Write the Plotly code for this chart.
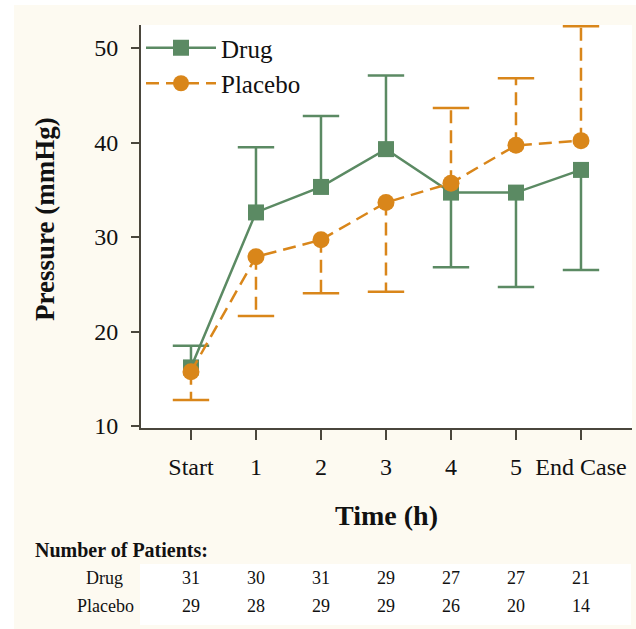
import plotly.graph_objects as go

# ---- data ----
time_labels = ["Start", "1", "2", "3", "4", "5", "End Case"]
drug_mean = [16.2, 32.6, 35.3, 39.3, 34.7, 34.7, 37.1]
drug_err_up = [2.3, 6.9, 7.5, 7.8, 0, 0, 0]
drug_err_down = [0, 0, 0, 0, 7.9, 10.0, 10.6]
placebo_mean = [15.75, 27.9, 29.7, 33.65, 35.7, 39.7, 40.2]
placebo_err_up = [0, 0, 0, 0, 7.95, 7.1, 12.1]
placebo_err_down = [3.0, 6.25, 5.65, 9.45, 0, 0, 0]
n_drug = [31, 30, 31, 29, 27, 27, 21]
n_placebo = [29, 28, 29, 29, 26, 20, 14]
y_ticks = [10, 20, 30, 40, 50]

GREEN = "#5b8a63"
ORANGE = "#d9861a"
AXIS = "#4a463c"
CREAM = "#fdfaf1"
FONT = "Liberation Serif"

W, H = 636, 629
L, R, T, B = 141, 4, 25, 201
PW, PH = W - L - R, H - T - B


def px_x(px):
    return (px - L) / PW


def px_y(py):
    return (H - B - py) / PH


def stems(xs, ys, up, down):
    sx, sy, cx, cy = [], [], [], []
    for x, y, u, d in zip(xs, ys, up, down):
        if u > 0:
            sx += [x, x, None]
            sy += [y, y + u, None]
            cx.append(x)
            cy.append(y + u)
        if d > 0:
            sx += [x, x, None]
            sy += [y, y - d, None]
            cx.append(x)
            cy.append(y - d)
    return sx, sy, cx, cy


fig = go.Figure()

for mean, up, down, color, dash, name, sym in [
    (drug_mean, drug_err_up, drug_err_down, GREEN, "solid", "Drug", "square"),
    (placebo_mean, placebo_err_up, placebo_err_down, ORANGE, "13px,7px", "Placebo", "circle"),
]:
    sx, sy, cx, cy = stems(time_labels, mean, up, down)
    fig.add_trace(go.Scatter(x=sx, y=sy, mode="lines", showlegend=False, hoverinfo="skip",
                             line=dict(color=color, width=2.5, dash=dash), cliponaxis=False))
    fig.add_trace(go.Scatter(x=cx, y=cy, mode="markers", showlegend=False, hoverinfo="skip",
                             marker=dict(symbol="line-ew", size=26,
                                         line=dict(color=color, width=2.5)),
                             cliponaxis=False))
    fig.add_trace(go.Scatter(x=time_labels, y=mean, mode="lines+markers", name=name,
                             line=dict(color=color, width=2.5, dash=dash),
                             marker=dict(symbol=sym, size=17 if sym == "circle" else 16,
                                         color=color),
                             cliponaxis=False))

shapes = [
    # white outer strips (left / top)
    dict(type="rect", xref="paper", yref="paper", layer="below",
         x0=px_x(0), x1=px_x(14), y0=px_y(H), y1=px_y(0),
         fillcolor="white", line=dict(width=0)),
    dict(type="rect", xref="paper", yref="paper", layer="below",
         x0=px_x(0), x1=px_x(W), y0=px_y(5), y1=px_y(0),
         fillcolor="white", line=dict(width=0)),
    # white table panel
    dict(type="rect", xref="paper", yref="paper", layer="below",
         x0=px_x(140), x1=px_x(631), y0=px_y(625), y1=px_y(564),
         fillcolor="white", line=dict(width=0)),
]

annotations = [
    dict(text="<b>Number of Patients:</b>", xref="paper", yref="paper",
         x=px_x(33), y=px_y(550), xanchor="left", yanchor="middle", showarrow=False,
         font=dict(family=FONT, size=20, color="#111")),
    dict(text="Drug", xref="paper", yref="paper", x=px_x(104), y=px_y(578),
         xanchor="center", yanchor="middle", showarrow=False,
         font=dict(family=FONT, size=18, color="#111")),
    dict(text="Placebo", xref="paper", yref="paper", x=px_x(105), y=px_y(606),
         xanchor="center", yanchor="middle", showarrow=False,
         font=dict(family=FONT, size=18, color="#111")),
    dict(text="<b>Pressure (mmHg)</b>", xref="paper", yref="paper",
         x=px_x(45), y=px_y(219), xanchor="center", yanchor="middle", textangle=-90,
         showarrow=False, font=dict(family=FONT, size=27, color="#111")),
]
for lab, nd, npl in zip(time_labels, n_drug, n_placebo):
    annotations.append(dict(text=str(nd), x=lab, xref="x", yref="paper", y=px_y(578),
                            xanchor="center", yanchor="middle", showarrow=False,
                            font=dict(family=FONT, size=18, color="#111")))
    annotations.append(dict(text=str(npl), x=lab, xref="x", yref="paper", y=px_y(606),
                            xanchor="center", yanchor="middle", showarrow=False,
                            font=dict(family=FONT, size=18, color="#111")))

y_top = 50 + (48 - T) / 9.44
y_bot = 10 - (H - B - 426) / 9.44

fig.update_layout(
    width=W, height=H,
    margin=dict(l=L, r=R, t=T, b=B, pad=0, autoexpand=False),
    paper_bgcolor=CREAM,
    plot_bgcolor="white",
    font=dict(family=FONT, color="#111"),
    showlegend=True,
    legend=dict(x=0.0, y=1.0, xanchor="left", yanchor="top", bgcolor="rgba(0,0,0,0)",
                font=dict(family=FONT, size=25, color="#111"), tracegroupgap=0,
                itemwidth=70),
    xaxis=dict(type="category", categoryorder="array", categoryarray=time_labels,
               range=[-0.769, 6.785], showgrid=False, zeroline=False, automargin=False,
               showline=True, linecolor=AXIS, linewidth=2,
               ticks="outside", ticklen=10, tickwidth=2, tickcolor=AXIS,
               tickfont=dict(family=FONT, size=24, color="#111"), ticklabelstandoff=6,
               title=dict(text="<b>Time (h)</b>", font=dict(family=FONT, size=28, color="#111"),
                          standoff=27)),
    yaxis=dict(range=[y_bot, y_top], tickvals=y_ticks, showgrid=False, zeroline=False,
               automargin=False,
               showline=True, linecolor=AXIS, linewidth=2,
               ticks="outside", ticklen=8, tickwidth=2, tickcolor=AXIS,
               tickfont=dict(family=FONT, size=24, color="#111"), ticklabelstandoff=8),
    shapes=shapes,
    annotations=annotations,
)

fig.write_html("out.html", config={"displayModeBar": False},
               post_script="document.body.style.margin='0';document.body.style.padding='0';")
